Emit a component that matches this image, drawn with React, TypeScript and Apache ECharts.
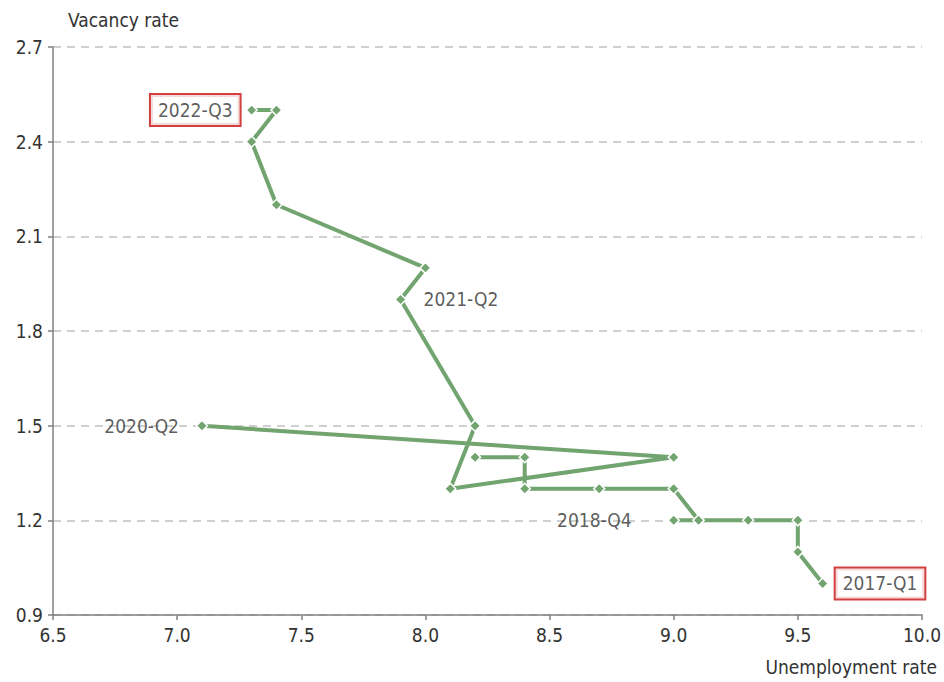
import React, { useEffect, useRef } from "react";
import * as echarts from "echarts";

// Path of the curve, in drawing order (null = break in the line)
const unemployment: (number | null)[] = [9.6, 9.5, 9.5, 9.3, 9.1, 9.0, 9.1, 9.0, 8.7, 8.4, 8.4, 8.2, null, 7.1, 9.0, 8.1, 8.2, 7.9, 8.0, 7.4, 7.3, 7.4, 7.3];
const vacancy: (number | null)[] = [1.0, 1.1, 1.2, 1.2, 1.2, 1.2, 1.2, 1.3, 1.3, 1.3, 1.4, 1.4, null, 1.5, 1.4, 1.3, 1.5, 1.9, 2.0, 2.2, 2.4, 2.5, 2.5];

// Annotations
const annoText = ["2017-Q1", "2018-Q4", "2020-Q2", "2021-Q2", "2022-Q3"];
const annoX = [9.6, 9.0, 7.1, 7.9, 7.3];
const annoY = [1.0, 1.2, 1.5, 1.9, 2.5];
const annoBoxed = [true, false, false, false, true];

const xTicks = { min: 6.5, max: 10.0, interval: 0.5 };
const yTicks = { min: 0.9, max: 2.7, interval: 0.3 };

const FONT = "'DejaVu Sans Condensed', 'Liberation Sans Narrow', sans-serif";
const GREEN = "#71a46f";
const TEXT = "#333333";
const FS = 19;

export default function App() {
  const ref = useRef<HTMLDivElement>(null);
  useEffect(() => {
    if (!ref.current) return;
    const chart = echarts.init(ref.current, undefined, { renderer: "svg" });
    const lineData = unemployment.map((x, i) => (x === null ? [null, null] : [x, vacancy[i]]));
    const annoPos = ["right", "left", "left", "right", "left"];
    const annoDist = [13, 42, 23, 23, 12];
    const annoData = annoText.map((t, i) => ({
      value: [annoX[i], annoY[i]],
      label: {
        show: true,
        formatter: t,
        position: annoPos[i],
        distance: annoDist[i],
        fontFamily: FONT,
        fontSize: FS,
        color: TEXT,
        ...(annoBoxed[i]
          ? { borderColor: "#c81010", borderWidth: 2, backgroundColor: "#fff", padding: [6, 7, 5, 7] }
          : {}),
      },
    }));
    chart.setOption({
      animation: false,
      grid: { left: 53, right: 19, top: 47, bottom: 67 },
      xAxis: {
        type: "value",
        ...xTicks,
        name: "Unemployment rate",
        nameLocation: "end",
        nameGap: 15,
        nameTextStyle: { fontFamily: FONT, fontSize: FS, color: TEXT, align: "right", verticalAlign: "top", padding: [42, 0, 0, 0] },
        axisLine: { lineStyle: { color: "#808080", width: 1.5 } },
        axisTick: { show: true, length: 5, lineStyle: { color: "#808080", width: 1.5 } },
        axisLabel: { fontFamily: FONT, fontSize: FS, color: TEXT, margin: 10, formatter: (v: number) => v.toFixed(1) },
        splitLine: { show: false },
      },
      yAxis: {
        type: "value",
        ...yTicks,
        name: "Vacancy rate",
        nameLocation: "end",
        nameGap: 18,
        nameTextStyle: { fontFamily: FONT, fontSize: FS, color: TEXT, align: "left", padding: [0, 0, 0, 15] },
        axisLine: { show: true, lineStyle: { color: "#808080", width: 1.5 } },
        axisTick: { show: true, length: 5, lineStyle: { color: "#808080", width: 1.5 } },
        axisLabel: { fontFamily: FONT, fontSize: FS, color: TEXT, margin: 10, formatter: (v: number) => v.toFixed(1) },
        splitLine: { show: true, lineStyle: { color: "#c0c0c0", type: [8, 6], width: 1.5 } },
      },
      series: [
        {
          type: "line",
          data: lineData,
          connectNulls: false,
          symbol: "diamond",
          symbolSize: 11,
          showAllSymbol: true,
          lineStyle: { color: GREEN, width: 4 },
          itemStyle: { color: GREEN, borderColor: "#fff", borderWidth: 1.5 },
          z: 3,
        },
        {
          type: "scatter",
          data: annoData,
          symbolSize: 0,
          silent: true,
          z: 5,
        },
      ],
    });
    return () => chart.dispose();
  }, []);
  return <div ref={ref} style={{ width: 944, height: 682, position: "absolute", left: 0, top: 0 }} />;
}
